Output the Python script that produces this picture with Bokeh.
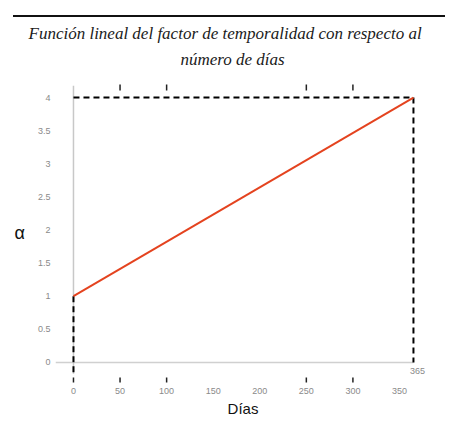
from bokeh.plotting import figure
from bokeh.models import Div, FixedTicker, NumeralTickFormatter, Range1d, Title
from bokeh.layouts import column
from bokeh.embed import file_html
from bokeh.resources import INLINE
from bokeh.core.properties import value

# data
dias = [0, 365]
alpha = [1, 4]
x_ticks = [0, 50, 100, 150, 200, 250, 300, 350]
y_ticks = [0, 0.5, 1, 1.5, 2, 2.5, 3, 3.5, 4]
tick_marks = [50, 100, 250, 300]
title_line1 = "Función lineal del factor de temporalidad con respecto al"
title_line2 = "número de días"

p = figure(width=442, height=400, output_backend="svg", toolbar_location=None,
           x_range=Range1d(-19.3, 383.3), y_range=Range1d(-0.348, 4.258),
           min_border_left=55, min_border_right=12, min_border_top=0, min_border_bottom=33)
p.outline_line_color = None
p.grid.visible = False
p.background_fill_color = "white"

p.title.text = title_line1
p.title.align = "left"
p.title.offset = -27
p.title.text_font = "Liberation Serif"
p.title.text_font_style = "italic"
p.title.text_font_size = "17px"
p.title.text_color = "#1a1a1a"
p.title.standoff = 5
t2 = Title(text=title_line2, align="left", offset=125, text_font="Liberation Serif",
           text_font_style="italic", text_font_size="17px", text_color="#1a1a1a", standoff=4,
           padding=(0, 0, 0, 10))
p.add_layout(t2, "above")

# axes
for ax in (p.xaxis, p.yaxis):
    ax.axis_line_color = None
    ax.major_tick_line_color = None
    ax.minor_tick_line_color = None
    ax.major_tick_out = 0
    ax.major_tick_in = 0
    ax.minor_tick_out = 0
    ax.minor_tick_in = 0
    ax.major_label_text_font = "Liberation Sans"
    ax.major_label_text_font_size = "9px"
    ax.major_label_text_color = "#8a8a8a"
    ax.axis_label_text_font = "Liberation Sans"
    ax.axis_label_text_font_style = "normal"
    ax.axis_label_text_color = "#111111"

p.xaxis.ticker = FixedTicker(ticks=x_ticks)
p.xaxis.major_label_standoff = 2
p.xaxis.axis_label = "Días"
p.xaxis.axis_label_text_font_size = "15px"
p.xaxis.axis_label_standoff = 3

p.yaxis.ticker = FixedTicker(ticks=y_ticks)
p.yaxis.formatter = NumeralTickFormatter(format="0.[0]")
p.yaxis.major_label_standoff = 5
p.yaxis.axis_label = "α"
p.yaxis.axis_label_orientation = "horizontal"
p.yaxis.axis_label_text_font_size = "18px"
p.yaxis.axis_label_standoff = 10

# gray reference lines
p.segment(x0=[0], y0=[-0.17], x1=[0], y1=[4.18], line_color="#c8c8c8", line_width=1.5)
p.segment(x0=[-19.3], y0=[0], x1=[dias[1]], y1=[0], line_color="#d0d0d0", line_width=1.5)

# small tick marks
p.segment(x0=tick_marks, y0=[4.106]*len(tick_marks), x1=tick_marks, y1=[4.197]*len(tick_marks),
          line_color="#222222", line_width=1.5)
bt = [0] + tick_marks
p.segment(x0=bt, y0=[-0.303]*len(bt), x1=bt, y1=[-0.227]*len(bt),
          line_color="#222222", line_width=1.5)

# dashed guides
p.line([dias[0], dias[1]], [alpha[1], alpha[1]], line_color="black", line_width=2, line_dash="6 4")
p.line([dias[1], dias[1]], [alpha[1], 0], line_color="black", line_width=2, line_dash="6 4")
p.line([dias[0], dias[0]], [alpha[0], -0.2], line_color="black", line_width=2, line_dash="6 4")

# red line
p.line(dias, alpha, line_color="#e4431f", line_width=2)

# 365 label
p.text(x=[dias[1]], y=[-0.13], text=[str(dias[1])], text_align="center", text_baseline="middle",
       text_font=value("Liberation Sans"), text_font_size="9px", text_color="#8a8a8a", x_offset=4)

top_line = Div(text='<div style="margin-top:7px;margin-left:8px;border-top:2px solid #111;width:432px;height:0"></div>',
               width=442, height=9)
layout = column(top_line, p, spacing=0)

open("out.html", "w").write(file_html(layout, INLINE))
